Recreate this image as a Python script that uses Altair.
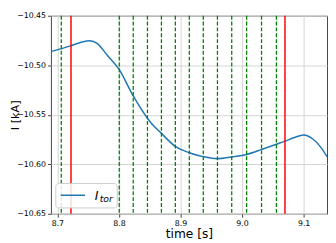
import altair as alt
import pandas as pd

# Data
curve_t = [8.6895, 8.72, 8.74, 8.7526, 8.765, 8.78, 8.80, 8.8232, 8.8463, 8.8526,
           8.869, 8.8916, 8.9143, 8.937, 8.96, 8.9832, 9.0074, 9.0316, 9.0558,
           9.07, 9.085, 9.10, 9.115, 9.128, 9.138]
curve_i = [-10.4863, -10.4807, -10.4765, -10.4753, -10.4781, -10.4891, -10.504,
           -10.531, -10.5535, -10.5585, -10.5688, -10.582, -10.5883, -10.5923,
           -10.5944, -10.5926, -10.5901, -10.5851, -10.5798, -10.5766, -10.5729,
           -10.5704, -10.5745, -10.5829, -10.5923]
green_t = [8.7063, 8.8005, 8.8232, 8.8463, 8.869, 8.8916, 8.9143, 8.937, 8.96,
           8.9832, 9.0074, 9.0316, 9.0558]
red_t = [8.7221, 9.0697]
x_ticks = [8.7, 8.8, 8.9, 9.0, 9.1]
y_ticks = [-10.65, -10.60, -10.55, -10.50, -10.45]

curve = pd.DataFrame({"t": curve_t, "I": curve_i})
greens = pd.DataFrame({"t": green_t})
reds = pd.DataFrame({"t": red_t})
one = pd.DataFrame({"a": [0]})

W, H = 283, 203

xs = alt.Scale(domain=[8.6895, 9.138], nice=False, zero=False)
ys = alt.Scale(domain=[-10.65, -10.45], nice=False, zero=False)

xax = alt.Axis(values=x_ticks, format=".1f", title="time [s]", grid=True,
               titleFontSize=12.5)
yax = alt.Axis(values=y_ticks, format=".2f", title="I [kA]", grid=True,
               titleX=-42, titleY=H / 2, titleBaseline="top", titleFontSize=11.5)

line = alt.Chart(curve).mark_line(color="#1f77b4", strokeWidth=1.5,
                                  interpolate="monotone", clip=True).encode(
    x=alt.X("t:Q", scale=xs, axis=xax),
    y=alt.Y("I:Q", scale=ys, axis=yax),
)

green = alt.Chart(greens).mark_rule(color="#008000", strokeWidth=1.3,
                                    strokeDash=[4, 2]).encode(
    x=alt.X("t:Q", scale=xs))
red = alt.Chart(reds).mark_rule(color="#ff0000", strokeWidth=1.5).encode(
    x=alt.X("t:Q", scale=xs))

leg_box = alt.Chart(one).mark_rect(fill="white", fillOpacity=0.85,
                                   stroke="#cccccc", strokeWidth=1,
                                   cornerRadius=3).encode(
    x=alt.value(5), x2=alt.value(68), y=alt.value(172), y2=alt.value(197))
leg_line = alt.Chart(one).mark_rule(color="#1f77b4", strokeWidth=1.5).encode(
    x=alt.value(10), x2=alt.value(35), y=alt.value(184))
leg_I = alt.Chart(one).mark_text(text="I", fontSize=13, fontStyle="italic",
                                 font="DejaVu Sans", align="left",
                                 baseline="alphabetic", color="black").encode(
    x=alt.value(45), y=alt.value(189))
leg_tor = alt.Chart(one).mark_text(text="tor", fontSize=9.5, fontStyle="italic",
                                   font="DejaVu Sans", align="left",
                                   baseline="alphabetic", color="black").encode(
    x=alt.value(50), y=alt.value(191))

chart = alt.layer(line, green, red, leg_box, leg_line, leg_I, leg_tor).properties(
    width=W, height=H,
    autosize=alt.AutoSizeParams(type="none"),
    padding={"left": 44, "top": 5, "right": 1, "bottom": 27},
).configure_view(
    stroke="#444444", strokeWidth=1
).configure_axis(
    domain=False,
    gridColor="#d4d4d4", gridWidth=1,
    tickColor="#444444", tickSize=3.5, tickWidth=1,
    labelFont="DejaVu Sans", labelFontSize=8, labelColor="black", labelPadding=2,
    titleFont="DejaVu Sans", titleFontWeight="normal",
    titleColor="black",
).configure_axisX(titlePadding=1, labelFlush=False).configure_axisY(
    labelFlush=False)

chart.save("out.html", embed_options={"renderer": "svg", "actions": False})
